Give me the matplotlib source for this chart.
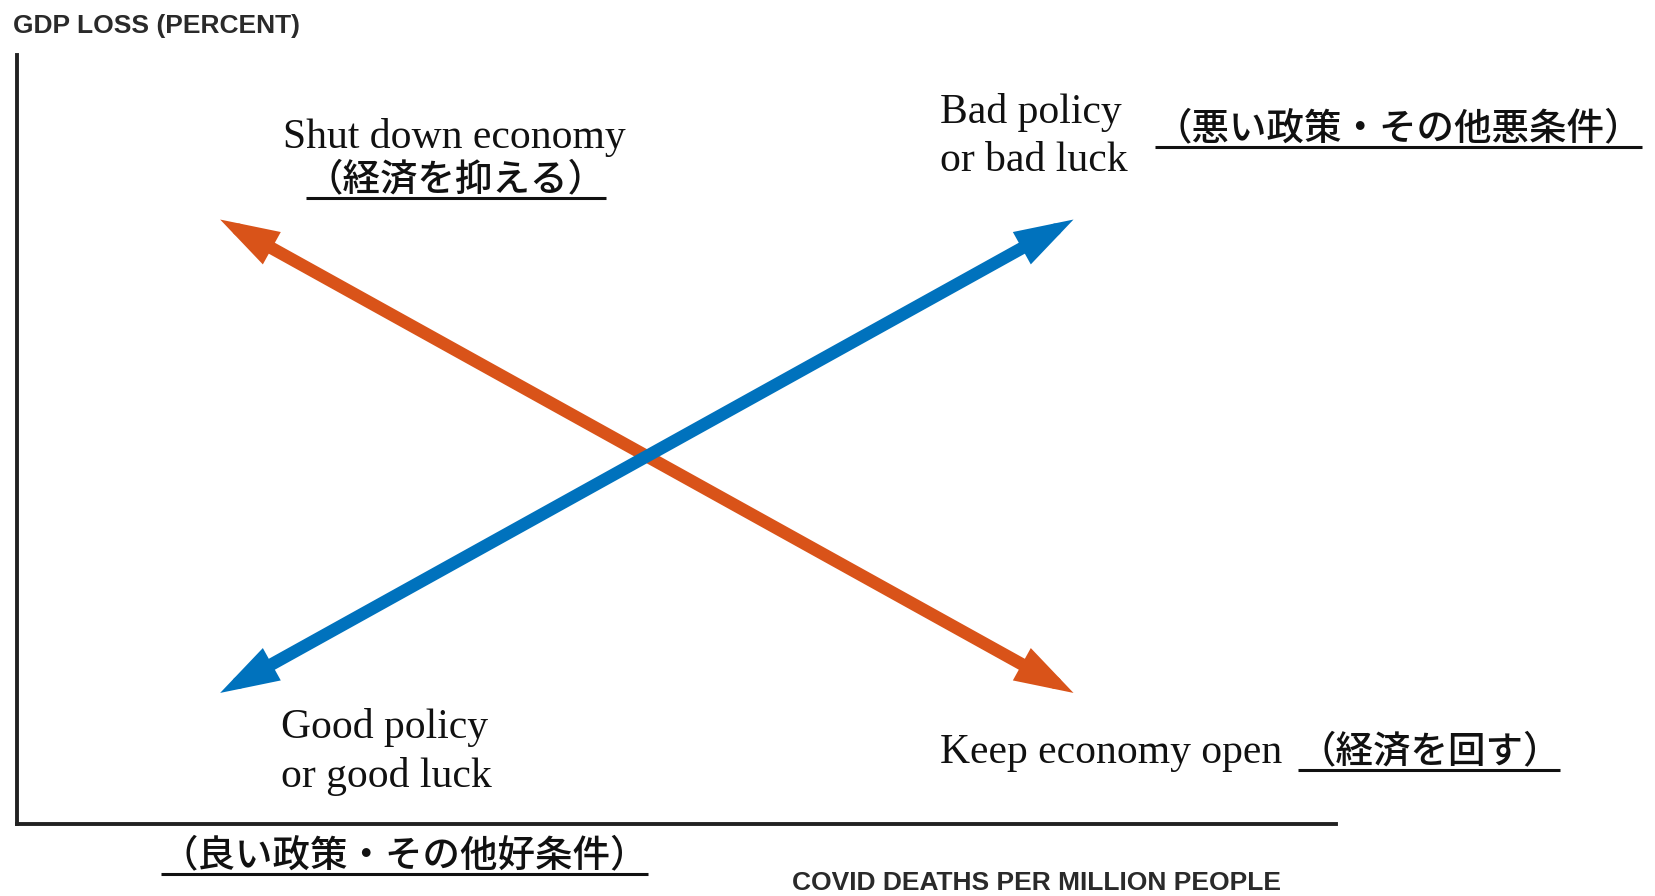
import matplotlib
matplotlib.use("Agg")
import matplotlib.pyplot as plt
from matplotlib.lines import Line2D

# --- data (abstract units: x = covid deaths, y = gdp loss, both 0..100) ---
arrow_names = ["policy_tradeoff", "luck"]
arrow_start_x = [15.4, 15.4]
arrow_start_y = [78.4, 17.0]
arrow_end_x = [80.1, 80.1]
arrow_end_y = [17.0, 78.4]
arrow_colors = ["#D95319", "#0072BD"]

x_label = "COVID DEATHS PER MILLION PEOPLE"
y_label = "GDP LOSS (PERCENT)"

en_labels = ["Shut down economy", "Bad policy\nor bad luck",
             "Good policy\nor good luck", "Keep economy open"]
jp_labels = ["（経済を抑える）", "（悪い政策・その他悪条件）",
             "（良い政策・その他好条件）", "（経済を回す）"]

W, H = 1656, 896


def fx(px):
    return px / W


def fy(py):
    return 1 - py / H


fig = plt.figure(figsize=(W / 100, H / 100), dpi=100)
fig.patch.set_facecolor("white")

# axes box: left spine x=17px, bottom spine y=824px, top 55px, right 1336px
ax = fig.add_axes([fx(17), fy(824), (1336 - 17) / W, (824 - 55) / H])
ax.set_xlim(0, 100)
ax.set_ylim(0, 100 * (824 - 55) / (824 - 53))
for side in ["top", "right"]:
    ax.spines[side].set_visible(False)
for side in ["left", "bottom"]:
    ax.spines[side].set_linewidth(2.8)
    ax.spines[side].set_color("#222222")
ax.set_xticks([])
ax.set_yticks([])
ax.patch.set_alpha(0)

# --- double headed arrows ---
for x0, y0, x1, y1, c in zip(arrow_start_x, arrow_start_y, arrow_end_x, arrow_end_y, arrow_colors):
    ax.annotate("", xy=(x1, y1), xytext=(x0, y0),
                arrowprops=dict(arrowstyle="<|-|>,head_length=23,head_width=7.2",
                                mutation_scale=1, lw=9, color=c,
                                joinstyle="miter", shrinkA=0, shrinkB=0))

# --- axis titles ---
sans = dict(family="Liberation Sans", fontweight="bold", color="#2a2a2a", fontsize=19)
fig.text(fx(13), fy(33), y_label, ha="left", va="baseline", **sans)
fig.text(fx(792), fy(890), x_label, ha="left", va="baseline", **sans)

# --- english labels (serif) ---
serif = dict(family="Liberation Serif", color="#111111", fontsize=30, linespacing=1.32)
en_pos = [(283, 148), (940, 171), (281, 787), (940, 763)]
for txt, (px, py) in zip(en_labels, en_pos):
    fig.text(fx(px), fy(py), txt, ha="left", va="baseline", **serif)

# --- japanese labels, underlined ---
jp_font = ["Noto Sans CJK JP", "DejaVu Sans"]
# left x, baseline y, underline y (pixels)
jp_pos = [(306, 190, 198), (1155, 139, 147), (161, 866, 874), (1298, 762, 770)]
jp_texts = []
for txt, (px, py, uy) in zip(jp_labels, jp_pos):
    t = fig.text(fx(px), fy(py), txt, ha="left", va="baseline",
                 family=jp_font, fontsize=27, fontweight="medium", color="#111111")
    jp_texts.append((t, uy))

fig.canvas.draw()
r = fig.canvas.get_renderer()
for t, uy in jp_texts:
    bb = t.get_window_extent(r)
    fig.add_artist(Line2D([bb.x0 / W, bb.x1 / W], [fy(uy), fy(uy)],
                          color="#111111", lw=2.2, solid_capstyle="butt"))

fig.savefig("out.png", dpi=100, facecolor="white")
